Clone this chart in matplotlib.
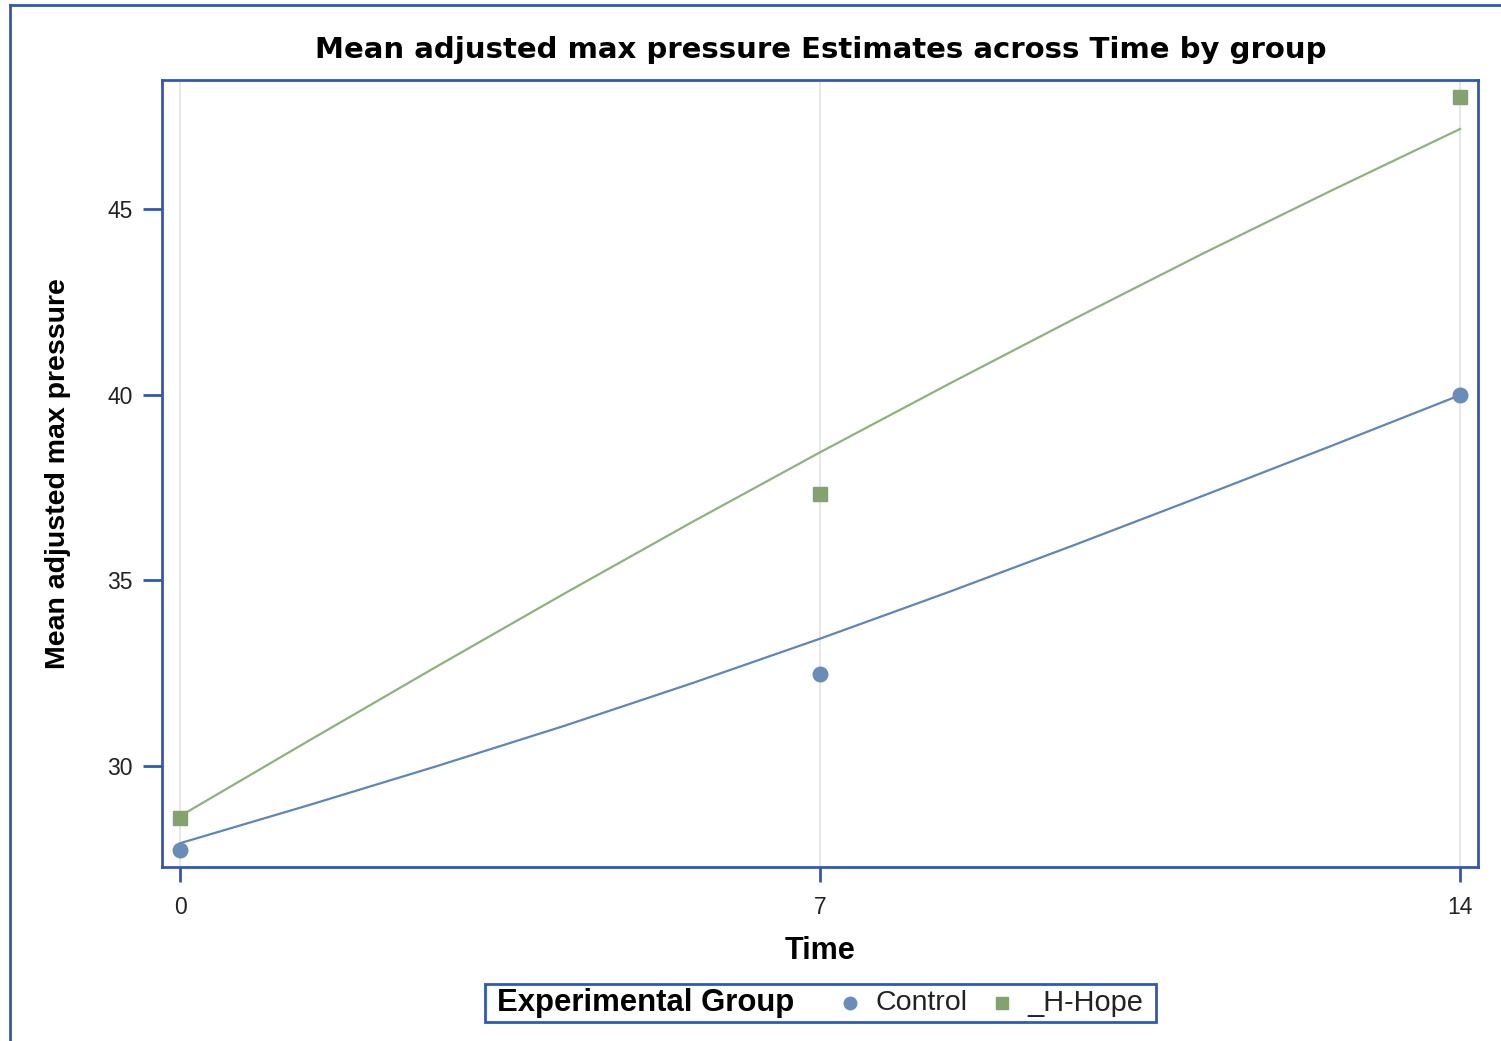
import matplotlib.pyplot as plt
from matplotlib.lines import Line2D
from matplotlib.patches import Rectangle

plt.rcParams['font.family'] = ['Liberation Sans', 'DejaVu Sans']

# observed group means
times = [0, 7, 14]
control_means = [27.74, 32.48, 40.0]
hope_means = [28.6, 37.32, 48.02]

# fitted curves
fit_times = [0, 1.4, 2.8, 4.2, 5.6, 7, 8.4, 9.8, 11.2, 12.6, 14]
control_fit = [27.92, 28.94, 29.99, 31.08, 32.23, 33.43, 34.68, 35.97, 37.29, 38.63, 39.99]
hope_fit = [28.65, 30.67, 32.67, 34.64, 36.57, 38.45, 40.28, 42.07, 43.82, 45.51, 47.16]

xticks = [0, 7, 14]
yticks = [30, 35, 40, 45]

frame_blue = '#3058B8'
blue = '#6A8CB8'
green = '#83A26E'

W, H = 1501, 1041
fig = plt.figure(figsize=(W / 100, H / 100), dpi=100)
ax = fig.add_axes([162 / W, 1 - 867 / H, (1478 - 162) / W, (867 - 80) / H])

# vertical reference lines at the time points
for t in xticks:
    ax.axvline(t, color='#E3E3E3', linewidth=1.2, zorder=0)

ax.plot(fit_times, control_fit, color='#5E86B8', linewidth=1.6, zorder=2)
ax.plot(fit_times, hope_fit, color='#8FB27C', linewidth=1.6, zorder=2)
ax.plot(times, control_means, 'o', color=blue, markersize=10.5, zorder=3)
ax.plot(times, hope_means, 's', color=green, markersize=10.5, zorder=3)

ax.set_xlim(-0.197, 14.197)
ax.set_ylim(27.28, 48.48)
ax.set_xticks(xticks)
ax.set_yticks(yticks)
ax.tick_params(axis='both', colors=frame_blue, labelcolor='#222222', labelsize=16.5,
               width=2, direction='out')
ax.tick_params(axis='x', length=11, pad=10)
ax.tick_params(axis='y', length=14, pad=7)
for s in ax.spines.values():
    s.set_color(frame_blue)
    s.set_linewidth(2)

ax.set_xlabel('Time', fontsize=22, fontweight='bold', labelpad=12)
ax.set_ylabel('Mean adjusted max pressure', fontsize=20.5, fontweight='bold', labelpad=26)

fig.text(821 / W, 1 - 50 / H, 'Mean adjusted max pressure Estimates across Time by group',
         ha='center', va='center', fontsize=21, fontweight='bold', family='DejaVu Sans')

# outer frame (only left and top edges visible in the crop)
fig.add_artist(Line2D([10 / W, 10 / W], [0, 1 - 5 / H], color=frame_blue, linewidth=2))
fig.add_artist(Line2D([10 / W, 1], [1 - 5 / H, 1 - 5 / H], color=frame_blue, linewidth=2))

# legend box
fig.add_artist(Rectangle((485 / W, 1 - 1022 / H), (1156 - 485) / W, 38 / H,
                         transform=fig.transFigure, fill=False,
                         edgecolor=frame_blue, linewidth=2))
ly = 1 - 1003 / H
fig.text(497 / W, ly, 'Experimental Group', ha='left', va='center',
         fontsize=22.4, fontweight='bold')
fig.add_artist(Line2D([850 / W], [ly], marker='o', color=blue, markersize=9, linestyle='none'))
fig.text(876 / W, ly, 'Control', ha='left', va='center', fontsize=20.5, color='#222222')
fig.add_artist(Line2D([1002 / W], [ly], marker='s', color=green, markersize=9, linestyle='none'))
fig.text(1027 / W, ly, '_H-Hope', ha='left', va='center', fontsize=20.8, color='#222222')

fig.savefig('out.png', dpi=100)
